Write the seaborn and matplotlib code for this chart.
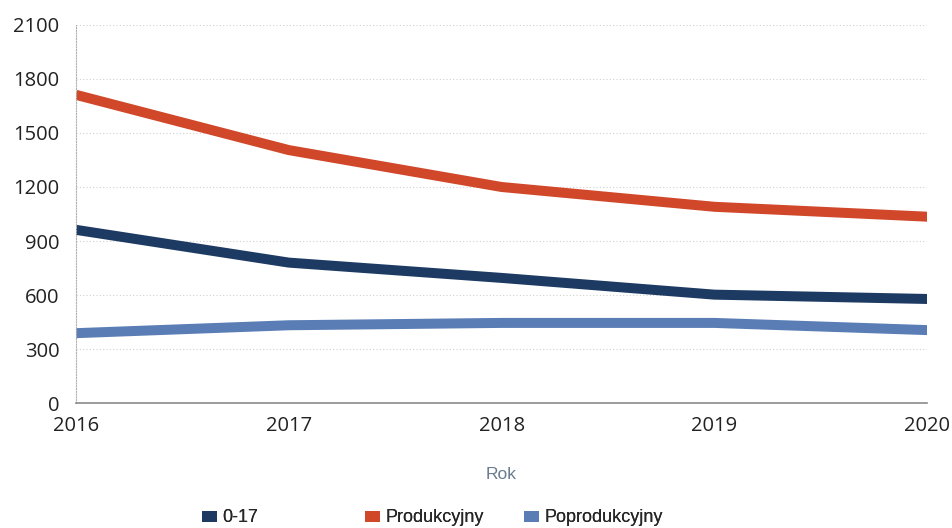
import pandas as pd
import seaborn as sns
import matplotlib.pyplot as plt
from matplotlib.patches import Patch

# Data
years = [2016, 2017, 2018, 2019, 2020]
age_0_17 = [962, 780, 695, 602, 578]
produkcyjny = [1712, 1405, 1200, 1090, 1035]
poprodukcyjny = [388, 432, 445, 445, 405]
series_names = ['0-17', 'Produkcyjny', 'Poprodukcyjny']
colors = ['#1d3a63', '#d0472a', '#5a7db6']
y_ticks = [0, 300, 600, 900, 1200, 1500, 1800, 2100]

df = pd.DataFrame({
    'Rok': years * 3,
    'value': age_0_17 + produkcyjny + poprodukcyjny,
    'group': [series_names[0]] * 5 + [series_names[1]] * 5 + [series_names[2]] * 5,
})

sns.set_style('white')
plt.rcParams['font.family'] = ['Open Sans', 'DejaVu Sans']

fig = plt.figure(figsize=(9.52, 5.28), dpi=100)
ax = fig.add_axes([0.0798, 0.2367, 0.8942, 0.716])

sns.lineplot(data=df, x='Rok', y='value', hue='group', palette=colors,
             hue_order=series_names, linewidth=7.2, legend=False, ax=ax,
             solid_capstyle='butt', solid_joinstyle='round')

ax.set_xlim(2016, 2020)
ax.set_ylim(0, 2100)
ax.set_xticks(years)
ax.set_yticks(y_ticks)
ax.tick_params(axis='both', labelsize=14.5, colors='#222222', length=0)
ax.tick_params(axis='y', pad=12)
ax.tick_params(axis='x', pad=9)
ax.yaxis.grid(True, linestyle=(0, (1, 2)), color='#d0d0d0', linewidth=0.8)
ax.set_axisbelow(True)

for s in ['top', 'right']:
    ax.spines[s].set_visible(False)
ax.spines['left'].set_linestyle((0, (1, 1.5)))
ax.spines['left'].set_color('#b0b0b0')
ax.spines['left'].set_linewidth(0.8)
ax.spines['bottom'].set_color('#8a8a8a')
ax.spines['bottom'].set_linewidth(1.2)

ax.set_ylabel('')
ax.set_xlabel('Rok', fontsize=12.5, color='#6a7c8e', labelpad=23,
              family=['Liberation Sans', 'DejaVu Sans'])

# Legend at the bottom, small rectangular keys
leg_font = {'family': ['Liberation Sans', 'DejaVu Sans'], 'size': 13}
anchors = [0.195, 0.366, 0.533]
for name, c, xa in zip(series_names, colors, anchors):
    leg = fig.legend([Patch(facecolor=c, edgecolor='none')], [name],
                     loc='center left', bbox_to_anchor=(xa, 0.019),
                     frameon=False, prop=leg_font, handletextpad=0.3,
                     handlelength=0.85, handleheight=0.55)
    fig.add_artist(leg)

fig.savefig('out.png', dpi=100)
